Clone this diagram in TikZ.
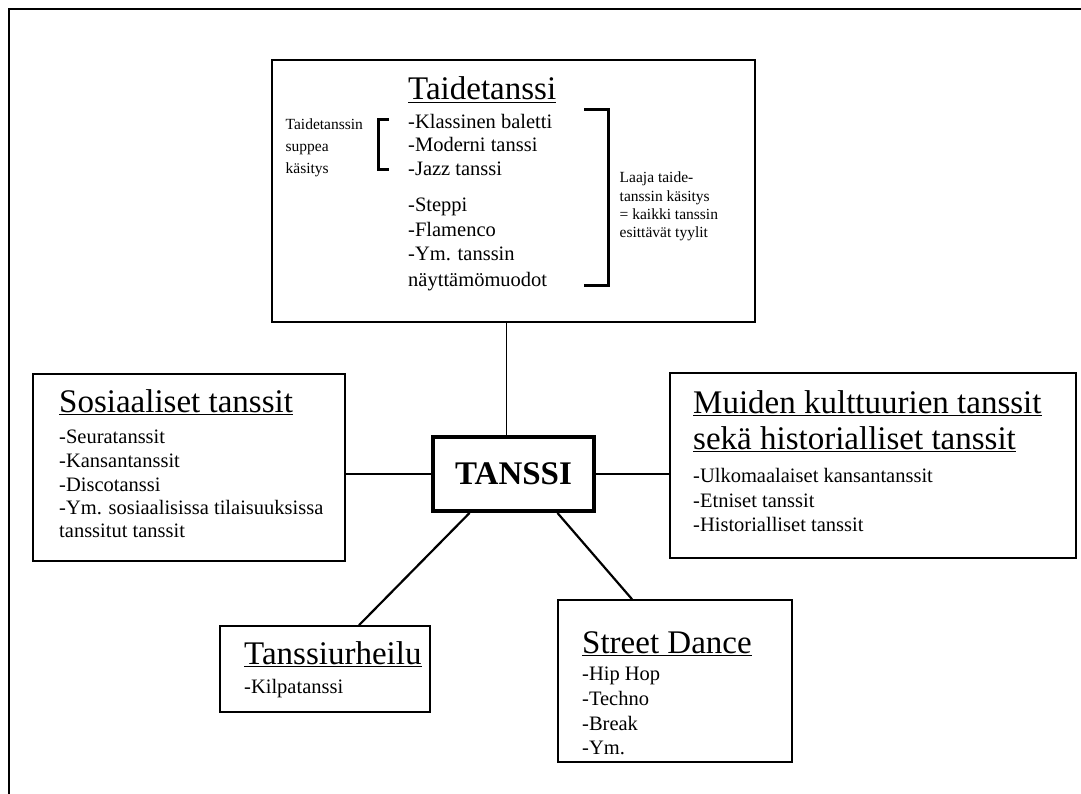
\documentclass[tikz,border=0pt]{standalone}
\usepackage{fontspec}
\setmainfont{Liberation Serif}
\begin{document}
\begin{tikzpicture}[x=1pt,y=-1pt,
  box/.style={draw, line width=1.6pt, inner sep=0pt},
  txt/.style={inner sep=0pt, anchor=base west},
  ttl/.style={txt, font=\fontsize{33}{36}\selectfont},
  itm/.style={txt, font=\fontsize{20.5}{24}\selectfont},
  sml/.style={txt, font=\fontsize{15.5}{18}\selectfont},
  link/.style={line width=1.6pt},
  diag/.style={line width=2.2pt},
  ul/.style={line width=1.3pt},
  brk/.style={line width=3pt}]
\useasboundingbox (0,0) rectangle (1081,794);
\fill[white] (0,0) rectangle (1081,794);
\draw[line width=2pt] (9,794) -- (9,9) -- (1081,9);

% boxes
\node[box, minimum width=483pt, minimum height=262pt] (top) at (513.5,191) {};
\node[box, minimum width=312pt, minimum height=187pt] (soc) at (189,467.5) {};
\node[box, line width=4pt, minimum width=161pt, minimum height=74pt,
      font=\fontsize{33}{36}\selectfont\bfseries] (tanssi) at (513.5,474) {TANSSI};
\node[box, minimum width=406pt, minimum height=185pt] (muid) at (873,465.5) {};
\node[box, minimum width=210pt, minimum height=86pt] (urh) at (325,669) {};
\node[box, minimum width=234pt, minimum height=162pt] (street) at (675,681) {};

% connectors
\draw[link] ([xshift=-7pt]top.south) -- ([xshift=-7pt]tanssi.north);
\draw[link] (tanssi.west) -- (tanssi.west -| soc.east);
\draw[link] (tanssi.east) -- (tanssi.east -| muid.west);
\draw[diag] ([xshift=-44pt]tanssi.south) -- ([xshift=34pt]urh.north);
\draw[diag] ([xshift=44pt]tanssi.south) -- ([xshift=-43pt]street.north);

% Taidetanssi
\node[ttl] (t1) at (408,100) {Taidetanssi};
\draw[ul] ([yshift=-2.5pt]t1.base west) -- ([yshift=-2.5pt]t1.base east);
\node[itm] (t1a) at (408,129) {-Klassinen baletti};
\node[itm] (t1b) at (408,152) {-Moderni tanssi};
\node[itm] (t1c) at (408,176) {-Jazz tanssi};
\node[itm] (t1d) at (408,212) {-Steppi};
\node[itm] (t1e) at (408,237) {-Flamenco};
\node[itm] (t1f) at (408,261) {-Ym. tanssin};
\node[itm] (t1g) at (408,287) {näyttämömuodot};
\node[sml] (l1) at (285.5,130) {Taidetanssin};
\node[sml] (l2) at (285.5,152) {suppea};
\node[sml] (l3) at (285.5,174) {käsitys};
\draw[brk] (389,120) -- (378,120) -- (378,170) -- (389,170);
\draw[brk] (584,110) -- (608,110) -- (608,285) -- (584,285);
\node[sml] (r1) at (619.5,183) {Laaja taide-};
\node[sml] (r2) at (619.5,202) {tanssin käsitys};
\node[sml] (r3) at (619.5,220) {= kaikki tanssin};
\node[sml] (r4) at (619.5,238) {esittävät tyylit};

% Sosiaaliset
\node[ttl] (t2) at (59,412) {Sosiaaliset tanssit};
\draw[ul] ([yshift=-2.5pt]t2.base west) -- ([yshift=-2.5pt]t2.base east);
\node[itm] (t2a) at (59,443) {-Seuratanssit};
\node[itm] (t2b) at (59,467) {-Kansantanssit};
\node[itm] (t2c) at (59,491) {-Discotanssi};
\node[itm] (t2d) at (59,514) {-Ym. sosiaalisissa tilaisuuksissa};
\node[itm] (t2e) at (59,537) {tanssitut tanssit};

% Muiden
\node[ttl] (t3) at (693,413) {Muiden kulttuurien tanssit};
\draw[ul] ([yshift=-2.5pt]t3.base west) -- ([yshift=-2.5pt]t3.base east);
\node[ttl] (t3b) at (693,449) {sekä historialliset tanssit};
\draw[ul] ([yshift=-2.5pt]t3b.base west) -- ([yshift=-2.5pt]t3b.base east);
\node[itm] (t3c) at (693,482) {-Ulkomaalaiset kansantanssit};
\node[itm] (t3d) at (693,507) {-Etniset tanssit};
\node[itm] (t3e) at (693,531) {-Historialliset tanssit};

% Tanssiurheilu
\node[ttl] (t4) at (244,664) {Tanssiurheilu};
\draw[ul] ([yshift=-2.5pt]t4.base west) -- ([yshift=-2.5pt]t4.base east);
\node[itm] (t4a) at (244,693) {-Kilpatanssi};

% Street Dance
\node[ttl] (t5) at (582,653) {Street Dance};
\draw[ul] ([yshift=-2.5pt]t5.base west) -- ([yshift=-2.5pt]t5.base east);
\node[itm] (t5a) at (582,680) {-Hip Hop};
\node[itm] (t5b) at (582,705) {-Techno};
\node[itm] (t5c) at (582,730) {-Break};
\node[itm] (t5d) at (582,754) {-Ym.};
\end{tikzpicture}
\end{document}
